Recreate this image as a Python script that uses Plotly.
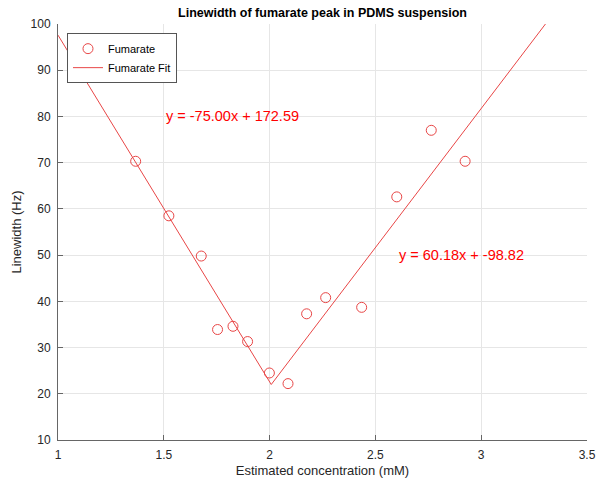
import plotly.graph_objects as go

# Data
conc = [1.367, 1.524, 1.677, 1.754, 1.827, 1.896, 1.999, 2.087, 2.175, 2.265, 2.435, 2.601, 2.764, 2.924]
linewidth = [70.3, 58.5, 49.8, 33.9, 34.6, 31.3, 24.5, 22.2, 37.3, 40.8, 38.7, 62.6, 77.0, 70.3]

slope1, icpt1 = -75.00, 172.59
slope2, icpt2 = 60.18, -98.82
x_cross = (icpt1 - icpt2) / (slope2 - slope1)
fit_x = [1.0, x_cross, 3.5]
fit_y = [slope1 * 1.0 + icpt1, slope1 * x_cross + icpt1, slope2 * 3.5 + icpt2]

eq_labels = ["y = -75.00x + 172.59", "y = 60.18x + -98.82"]
eq_pos = [(1.5, 80), (2.6, 50)]

x_ticks = [1, 1.5, 2, 2.5, 3, 3.5]
x_ticktext = ["1", "1.5", "2", "2.5", "3", "3.5"]
y_ticks = [10, 20, 30, 40, 50, 60, 70, 80, 90, 100]

FONT = "Liberation Sans, Arial, Helvetica, sans-serif"
RED_LINE = "rgb(232,70,70)"

fig = go.Figure()
fig.add_trace(go.Scatter(
    x=conc, y=linewidth, mode="markers", name="Fumarate",
    marker=dict(symbol="circle-open", size=10, color=RED_LINE, line=dict(width=1, color=RED_LINE)),
))
fig.add_trace(go.Scatter(
    x=fit_x, y=fit_y, mode="lines", name="Fumarate Fit",
    line=dict(color=RED_LINE, width=1),
))

for txt, (ex, ey) in zip(eq_labels, eq_pos):
    fig.add_annotation(x=ex, y=ey, text=txt, showarrow=False, xanchor="left", yanchor="middle",
                       font=dict(family=FONT, size=14.5, color="red"))

fig.update_layout(
    width=608, height=482,
    margin=dict(l=58, r=21, t=24, b=42),
    paper_bgcolor="white", plot_bgcolor="white",
    font=dict(family=FONT, size=12, color="#262626"),
    title=dict(text="<b>Linewidth of fumarate peak in PDMS suspension</b>",
               x=0.5, xref="paper", xanchor="center",
               y=1 - 13 / 482, yref="container", yanchor="middle",
               font=dict(family=FONT, size=12.5, color="black")),
    showlegend=True,
    legend=dict(x=0.017, y=0.978, xanchor="left", yanchor="top",
                bgcolor="white", bordercolor="#555", borderwidth=1,
                font=dict(family=FONT, size=11, color="black"),
                tracegroupgap=0, itemwidth=30),
    xaxis=dict(range=[1, 3.5], tickvals=x_ticks, ticktext=x_ticktext,
               showgrid=True, gridcolor="#e6e6e6", gridwidth=1,
               showline=True, linecolor="#666", linewidth=1, mirror=False,
               ticks="inside", ticklen=5, tickcolor="#666",
               zeroline=False, automargin=False, ticklabelstandoff=4,
               title=dict(text="Estimated concentration (mM)", standoff=4,
                          font=dict(family=FONT, size=13, color="#262626")),
               tickfont=dict(family=FONT, size=12, color="#262626")),
    yaxis=dict(range=[10, 100], tickvals=y_ticks,
               showgrid=True, gridcolor="#e6e6e6", gridwidth=1,
               showline=True, linecolor="#666", linewidth=1, mirror=False,
               ticks="inside", ticklen=5, tickcolor="#666",
               zeroline=False, automargin=False, ticklabelstandoff=4,
               title=dict(text="Linewidth (Hz)", standoff=6,
                          font=dict(family=FONT, size=13, color="#262626")),
               tickfont=dict(family=FONT, size=12, color="#262626")),
)

fig.write_html("out.html")
